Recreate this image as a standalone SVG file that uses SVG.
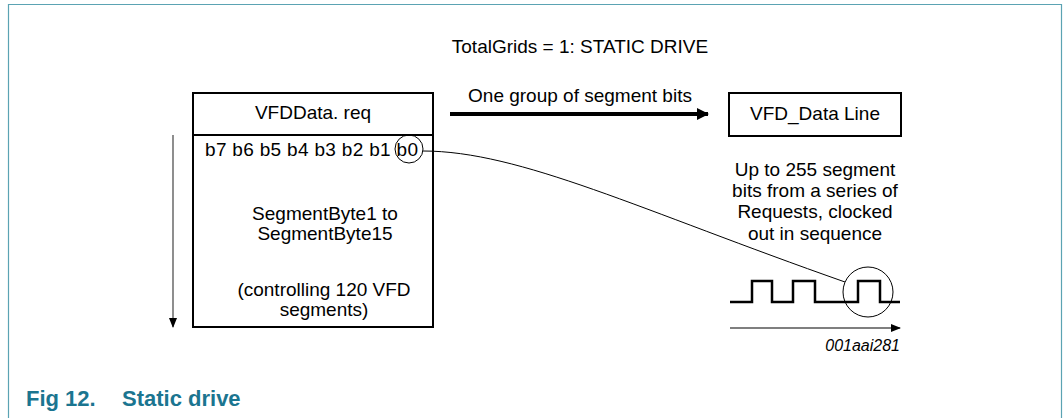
<svg xmlns="http://www.w3.org/2000/svg" width="1063" height="418" viewBox="0 0 1063 418">
<style>
text{font-family:"Liberation Sans",Arial,sans-serif;fill:#000}
.t{font-size:19px}
.box{fill:#fff;stroke:#000;stroke-width:2}
.thin{fill:none;stroke:#000;stroke-width:1}
.cap{font-size:22px;font-weight:bold;fill:#1b7590}
</style>
<defs>
<marker id="ah" markerWidth="10" markerHeight="8" refX="9" refY="4" orient="auto" markerUnits="userSpaceOnUse">
<path d="M0,0 L10,4 L0,8 Z" fill="#000"/>
</marker>
<marker id="ahb" markerWidth="12" markerHeight="12" refX="11" refY="6" orient="auto" markerUnits="userSpaceOnUse">
<path d="M0,0 L12,6 L0,12 Z" fill="#000"/>
</marker>
</defs>
<rect x="0" y="0" width="1063" height="418" fill="#fff"/>
<path d="M8.5,418 V4.5 H1061.5 V418" fill="none" stroke="#5ba3b3" stroke-width="1.2"/>
<text class="t" x="580" y="53" text-anchor="middle">TotalGrids = 1: STATIC DRIVE</text>

<g id="vfddata">
<rect class="box" x="193" y="93" width="240" height="234"/>
<line x1="193" y1="135" x2="433" y2="135" stroke="#000" stroke-width="2"/>
<text class="t" x="313" y="119" text-anchor="middle">VFDData. req</text>
<text class="t" x="205" y="156" textLength="213" lengthAdjust="spacing">b7 b6 b5 b4 b3 b2 b1 b0</text>
<circle class="thin" cx="409" cy="149" r="14"/>
<text class="t" x="325" y="220" text-anchor="middle">SegmentByte1 to</text>
<text class="t" x="325" y="240" text-anchor="middle">SegmentByte15</text>
<text class="t" x="324" y="296" text-anchor="middle">(controlling 120 VFD</text>
<text class="t" x="324" y="316" text-anchor="middle">segments)</text>
</g>

<g id="vfdline">
<rect class="box" x="729" y="93" width="172" height="43"/>
<text class="t" x="815" y="120" text-anchor="middle">VFD_Data Line</text>
<text class="t" x="815" y="176" text-anchor="middle">Up to 255 segment</text>
<text class="t" x="815" y="197" text-anchor="middle">bits from a series of</text>
<text class="t" x="815" y="218" text-anchor="middle">Requests, clocked</text>
<text class="t" x="815" y="240" text-anchor="middle">out in sequence</text>
</g>

<g id="waveform">
<path d="M730,302 H752 V281 H772 V302 H793 V281 H815 V302 H858 V281 H880 V302 H900" fill="none" stroke="#000" stroke-width="2.5"/>
<circle class="thin" cx="868" cy="292" r="25"/>
<line x1="730" y1="328" x2="900" y2="328" stroke="#000" stroke-width="1.2" marker-end="url(#ah)"/>
<text x="900" y="351" text-anchor="end" font-size="16" font-style="italic">001aai281</text>
</g>

<g id="connectors">
<line x1="450" y1="114" x2="708" y2="114" stroke="#000" stroke-width="4" marker-end="url(#ahb)"/>
<text class="t" x="580" y="102" text-anchor="middle">One group of segment bits</text>
<line x1="173" y1="135" x2="173" y2="327" stroke="#444" stroke-width="1.2" marker-end="url(#ah)"/>
<path d="M423,151 C520,151 640,210 845,282" class="thin"/>
</g>

<text class="cap" x="26" y="406">Fig 12.</text>
<text class="cap" x="122" y="406">Static drive</text>
</svg>
